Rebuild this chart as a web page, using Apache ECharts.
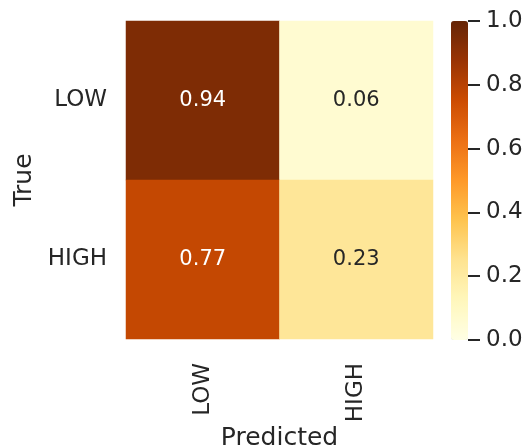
<!DOCTYPE html>
<html>
<head>
<meta charset="utf-8">
<script src="https://cdn.jsdelivr.net/npm/echarts@6/dist/echarts.min.js"></script>
<style>
  html, body { margin: 0; padding: 0; background: #ffffff; }
  #chart { width: 526px; height: 448px; }
</style>
</head>
<body>
<div id="chart"></div>
<script>
// Confusion matrix (row-normalised): rows = true class, columns = predicted class
const predictedLabels = ['LOW', 'HIGH'];
const trueLabels = ['LOW', 'HIGH'];
const rowLOW = [0.94, 0.06];
const rowHIGH = [0.77, 0.23];
const colorbarTicks = [0.0, 0.2, 0.4, 0.6, 0.8, 1.0];

// YlOrBr colour ramp
const ylOrBr = ['#ffffe5', '#fff7bc', '#fee391', '#fec44f', '#fe9929',
                '#ec7014', '#cc4c02', '#993404', '#662506'];

const FONT = 'DejaVu Sans';
const INK = '#262626';

const rows = [rowLOW, rowHIGH];
const cells = [];
rows.forEach((row, yi) => {
  row.forEach((v, xi) => {
    cells.push({
      value: [xi, yi, v],
      label: { color: v > 0.5 ? '#ffffff' : INK }
    });
  });
});

const chart = echarts.init(document.getElementById('chart'), null, { renderer: 'canvas' });

chart.setOption({
  animation: false,
  backgroundColor: '#ffffff',
  textStyle: { fontFamily: FONT },
  grid: [
    { left: 126, top: 21, width: 307, height: 318, outerBoundsMode: 'none', containLabel: false },
    { left: 451, top: 21, width: 17, height: 319, outerBoundsMode: 'none', containLabel: false }
  ],
  xAxis: [
    {
      type: 'category',
      gridIndex: 0,
      data: predictedLabels,
      name: 'Predicted',
      nameLocation: 'middle',
      nameGap: 87,
      nameMoveOverlap: false,
      nameTextStyle: { fontFamily: FONT, fontSize: 25, color: INK },
      axisLine: { show: false },
      axisTick: { show: false },
      splitLine: { show: false },
      axisLabel: { rotate: 90, margin: 24, fontFamily: FONT, fontSize: 23, color: INK }
    },
    { type: 'value', gridIndex: 1, show: false, min: 0, max: 1 }
  ],
  yAxis: [
    {
      type: 'category',
      gridIndex: 0,
      data: trueLabels,
      inverse: true,
      name: 'True',
      nameLocation: 'middle',
      nameGap: 89,
      nameMoveOverlap: false,
      nameRotate: 90,
      nameTextStyle: { fontFamily: FONT, fontSize: 25, color: INK },
      axisLine: { show: false },
      axisTick: { show: false },
      splitLine: { show: false },
      axisLabel: { margin: 19, fontFamily: FONT, fontSize: 23, color: INK }
    },
    {
      // colourbar scale
      type: 'value',
      gridIndex: 1,
      position: 'right',
      z: 10,
      min: colorbarTicks[0],
      max: colorbarTicks[colorbarTicks.length - 1],
      interval: 0.2,
      axisLine: { show: true, onZero: false, lineStyle: { color: 'rgba(0,0,0,0)', width: 0 } },
      splitLine: { show: false },
      axisTick: { show: true, inside: false, length: 12, lineStyle: { color: INK, width: 2 } },
      axisLabel: {
        margin: 18,
        fontFamily: FONT,
        fontSize: 23,
        color: INK,
        formatter: v => v.toFixed(1)
      }
    }
  ],
  visualMap: {
    type: 'continuous',
    min: 0,
    max: 1,
    calculable: false,
    seriesIndex: 0,
    orient: 'vertical',
    left: 451,
    top: 21,
    z: 1,
    padding: 0,
    itemWidth: 17,
    itemHeight: 319,
    text: null,
    showLabel: false,
    hoverLink: false,
    inRange: { color: ylOrBr }
  },
  series: [
    {
      type: 'heatmap',
      xAxisIndex: 0,
      yAxisIndex: 0,
      data: cells,
      label: {
        show: true,
        fontFamily: FONT,
        fontSize: 21,
        formatter: p => p.value[2].toFixed(2)
      },
      itemStyle: { borderWidth: 0 },
      emphasis: { disabled: true }
    }
  ]
});
</script>
</body>
</html>
